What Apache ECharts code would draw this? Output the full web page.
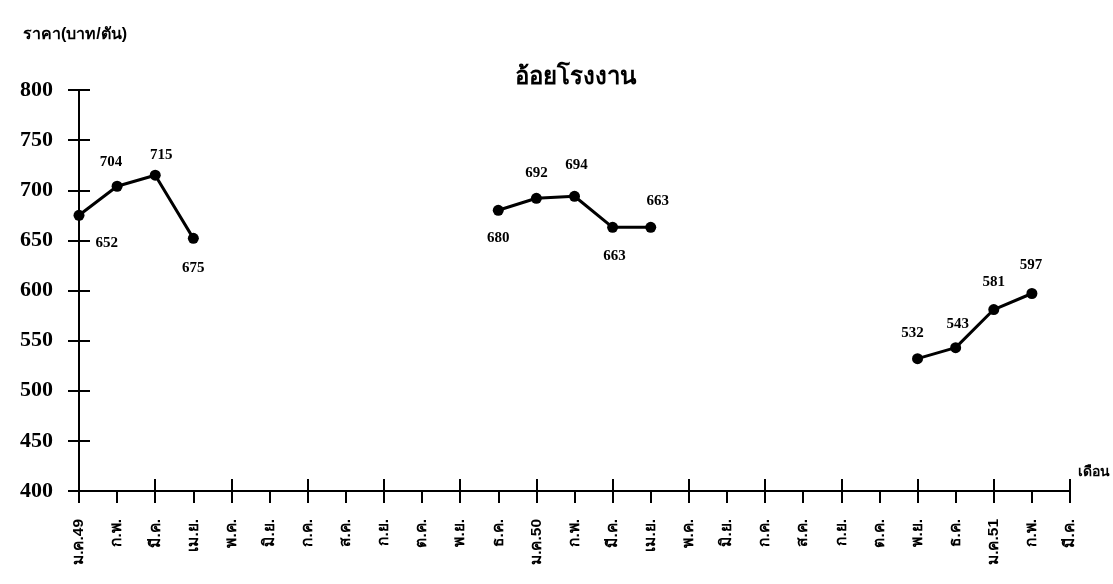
<!DOCTYPE html>
<html><head><meta charset="utf-8">
<script src="https://cdn.jsdelivr.net/npm/echarts@6/dist/echarts.min.js"></script>
<style>html,body{margin:0;padding:0;background:#fff}#c{width:1113px;height:584px}</style>
</head><body><div id="c"></div>
<script>
const categories = ["ม.ค.49","ก.พ.","มี.ค.","เม.ย.","พ.ค.","มิ.ย.","ก.ค.","ส.ค.","ก.ย.","ต.ค.","พ.ย.","ธ.ค.",
  "ม.ค.50","ก.พ.","มี.ค.","เม.ย.","พ.ค.","มิ.ย.","ก.ค.","ส.ค.","ก.ย.","ต.ค.","พ.ย.","ธ.ค.",
  "ม.ค.51","ก.พ.","มี.ค."];
const prices = [675,704,715,652,null,null,null,null,null,null,null,680,
  692,694,663,663,null,null,null,null,null,null,532,543,
  581,597,null];
const printedLabels = ["652","704","715","675","","","","","","","","680",
  "692","694","663","663","","","","","","","532","543",
  "581","597",""];
const yTicks = {min:400, max:800, step:50};
const titleText = "อ้อยโรงงาน";
const yName = "ราคา(บาท/ตัน)";
const xName = "เดือน";

const serif = "Liberation Serif";
const labelPlacement = {
  0:{position:'right',offset:[6,28]},
  1:{position:'top',offset:[-6,-6]},
  2:{position:'top',offset:[6,-2]},
  3:{position:'bottom',offset:[0,12]},
  11:{position:'bottom',offset:[0,10]},
  12:{position:'top',offset:[0,-7]},
  13:{position:'top',offset:[2,-13]},
  14:{position:'bottom',offset:[2,11]},
  15:{position:'top',offset:[7,-8]},
  22:{position:'top',offset:[-5,-8]},
  23:{position:'top',offset:[2,-6]},
  24:{position:'top',offset:[0,-9]},
  25:{position:'top',offset:[-1,-10]}
};
const data = prices.map((v,i)=>{
  const p = labelPlacement[i] || {position:'top',offset:[0,-4]};
  return {value:v, label:{show:v!==null, formatter:printedLabels[i], position:p.position, offset:p.offset}};
});
const axisLine = {lineStyle:{color:'#000',width:2}};
const chart = echarts.init(document.getElementById('c'));
chart.setOption({
  animation:false,
  title:[
    {text:titleText,left:570,top:60,textAlign:'center',textStyle:{fontSize:24,fontWeight:'bold',color:'#000'}},
    {text:yName,left:18,top:22,textStyle:{fontSize:16,fontWeight:'bold',color:'#000'}}
  ],
  grid:{left:79,right:39,top:90,bottom:93,containLabel:false},
  xAxis:[
    {type:'category',data:categories,boundaryGap:false,position:'bottom',
     name:xName,nameLocation:'end',nameGap:8,nameTextStyle:{fontSize:14,fontWeight:'bold',color:'#000',verticalAlign:'bottom',padding:[0,0,12,0]},
     axisLine:axisLine,axisTick:{show:true,inside:false,length:12,lineStyle:{color:'#000',width:2},alignWithLabel:true},
     axisLabel:{rotate:90,margin:28,fontSize:15.5,fontWeight:'bold',color:'#000',interval:0,fontFamily:'sans-serif'},splitLine:{show:false}},
    {type:'category',data:categories,boundaryGap:false,position:'bottom',
     axisLine:axisLine,axisTick:{show:true,inside:true,length:12,lineStyle:{color:'#000',width:2}},
     axisLabel:{show:false},splitLine:{show:false}}
  ],
  yAxis:[
    {type:'value',min:yTicks.min,max:yTicks.max,interval:yTicks.step,position:'left',
     axisLine:{show:true,lineStyle:{color:'#000',width:2}},axisTick:{show:true,inside:false,length:11,lineStyle:{color:'#000',width:2}},
     axisLabel:{margin:26,fontSize:22,fontWeight:'bold',color:'#000',fontFamily:serif},splitLine:{show:false}},
    {type:'value',min:yTicks.min,max:yTicks.max,interval:yTicks.step,position:'left',
     axisLine:{show:true,lineStyle:{color:'#000',width:2}},axisTick:{show:true,inside:true,length:11,lineStyle:{color:'#000',width:2}},
     axisLabel:{show:false},splitLine:{show:false}}
  ],
  series:[{type:'line',xAxisIndex:0,yAxisIndex:0,data:data,connectNulls:false,
    symbol:'circle',symbolSize:11,itemStyle:{color:'#000'},lineStyle:{color:'#000',width:3},
    label:{fontSize:15,fontWeight:'bold',color:'#000',fontFamily:serif}}]
});
</script></body></html>
